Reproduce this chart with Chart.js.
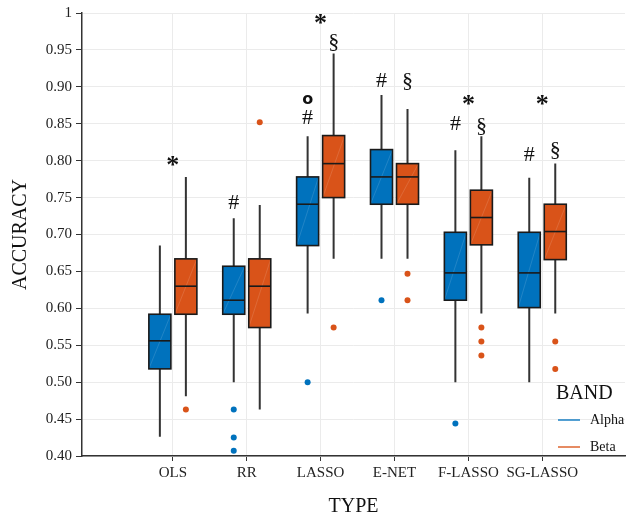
<!DOCTYPE html>
<html><head><meta charset="utf-8">
<script src="https://cdn.jsdelivr.net/npm/chart.js@4.4.1/dist/chart.umd.min.js"></script>
<style>html,body{margin:0;padding:0;background:#fff;} #wrap{width:629px;height:519px;position:relative;}</style>
</head><body><div id="wrap"><canvas id="c"></canvas></div>
<script>
const categories = ['OLS','RR','LASSO','E-NET','F-LASSO','SG-LASSO'];
const bandNames = ['Alpha','Beta'];
// [lower whisker, Q1, median, Q3, upper whisker]
const alphaStats = [
  [0.426,0.518,0.556,0.592,0.685],
  [0.500,0.592,0.611,0.657,0.722],
  [0.593,0.685,0.741,0.778,0.833],
  [0.667,0.741,0.778,0.815,0.889],
  [0.500,0.611,0.648,0.703,0.814],
  [0.500,0.601,0.648,0.703,0.777]
];
const betaStats = [
  [0.481,0.592,0.630,0.667,0.778],
  [0.463,0.574,0.630,0.667,0.740],
  [0.667,0.750,0.796,0.834,0.945],
  [0.667,0.741,0.778,0.796,0.870],
  [0.593,0.686,0.723,0.760,0.833],
  [0.593,0.666,0.704,0.741,0.796]
];
const alphaOutliers = [[],[0.463,0.425,0.407],[0.500],[0.611],[0.444],[]];
const betaOutliers = [[0.463],[0.852],[0.574],[0.647,0.611],[0.574,0.555,0.536],[0.555,0.518]];
const yTickValues = [0.40,0.45,0.50,0.55,0.60,0.65,0.70,0.75,0.80,0.85,0.90,0.95,1];
// significance marks: category index, which box ('Alpha','Beta' or 'center'), symbol, value level
const markCats  = [0,1,2,2,2,2,3,3,4,4,4,5,5,5];
const markBand  = ['center','Alpha','Alpha','Alpha','Beta','center','Alpha','Beta','Alpha','Beta','center','Alpha','Beta','center'];
const markText  = ['*','#','#','o','§','*','#','§','#','§','*','#','§','*'];
const markLevel = [0.801,0.743,0.857,0.883,0.960,0.993,0.908,0.908,0.850,0.847,0.883,0.807,0.814,0.883];

const COLORS = {Alpha:'#0072BD', Beta:'#D95319'};
const OFF = 0.176, HALF = 0.149;
const SERIF = '"Liberation Serif", "Times New Roman", serif';

function pts(outl, sign){
  const arr=[];
  outl.forEach((list,i)=>list.forEach(v=>arr.push({x:i+sign*OFF,y:v})));
  return arr;
}

const boxPlugin = {
  id:'boxes',
  beforeDatasetsDraw(chart){
    const ctx=chart.ctx, xs=chart.scales.x, ys=chart.scales.y;
    [[alphaStats,-1,'Alpha'],[betaStats,1,'Beta']].forEach(([stats,sign,band])=>{
      stats.forEach((s,i)=>{
        const cx=xs.getPixelForValue(i+sign*OFF);
        const l=xs.getPixelForValue(i+sign*OFF-HALF), r=xs.getPixelForValue(i+sign*OFF+HALF);
        const [mn,q1,md,q3,mx]=s.map(v=>ys.getPixelForValue(v));
        ctx.save();
        ctx.strokeStyle='#333'; ctx.lineWidth=2;
        ctx.beginPath(); ctx.moveTo(cx,q3); ctx.lineTo(cx,mx); ctx.moveTo(cx,q1); ctx.lineTo(cx,mn); ctx.stroke();
        ctx.fillStyle=COLORS[band];
        ctx.fillRect(l,q3,r-l,q1-q3);
        ctx.strokeStyle='rgba(255,255,255,0.22)'; ctx.lineWidth=0.6;
        ctx.beginPath(); ctx.moveTo(l,q1); ctx.lineTo(r,q3); ctx.stroke();
        ctx.strokeStyle='#1a1a1a'; ctx.lineWidth=1.6;
        ctx.strokeRect(l,q3,r-l,q1-q3);
        ctx.beginPath(); ctx.moveTo(l,md); ctx.lineTo(r,md); ctx.stroke();
        ctx.restore();
      });
    });
  },
  afterDatasetsDraw(chart){
    const ctx=chart.ctx, xs=chart.scales.x, ys=chart.scales.y;
    ctx.save();
    ctx.fillStyle='#111'; ctx.textAlign='center'; ctx.textBaseline='middle';
    markText.forEach((t,k)=>{
      const b=markBand[k];
      const xv=markCats[k]+(b==='Alpha'?-OFF:b==='Beta'?OFF:0);
      const x=xs.getPixelForValue(xv), y=ys.getPixelForValue(markLevel[k]);
      if(t==='o') ctx.font='bold 16px "DejaVu Sans", sans-serif';
      else if(t==='*') ctx.font='bold 26px '+SERIF;
      else ctx.font='22px '+SERIF;
      ctx.fillText(t,x,y+(t==='*'?6:0));
    });
    // legend
    const ca=chart.chartArea;
    const lx=ca.right-69, ly=ca.bottom-62;
    ctx.textAlign='left';
    ctx.font='20px '+SERIF; ctx.fillStyle='#111';
    ctx.fillText('BAND',lx,ly);
    ctx.font='14px '+SERIF;
    bandNames.forEach((n,j)=>{
      const yy=ly+26+j*27;
      ctx.strokeStyle=COLORS[n]; ctx.globalAlpha=0.85; ctx.lineWidth=1.6;
      ctx.beginPath(); ctx.moveTo(lx+2,yy); ctx.lineTo(lx+24,yy); ctx.stroke();
      ctx.globalAlpha=1; ctx.fillStyle='#111';
      ctx.fillText(n,lx+34,yy);
    });
    ctx.restore();
  }
};

new Chart(document.getElementById('c'),{
  type:'scatter',
  data:{datasets:[
    {label:bandNames[0],data:pts(alphaOutliers,-1),backgroundColor:COLORS.Alpha,borderWidth:0,pointRadius:3},
    {label:bandNames[1],data:pts(betaOutliers,1),backgroundColor:COLORS.Beta,borderWidth:0,pointRadius:3}
  ]},
  options:{
    responsive:true, maintainAspectRatio:false, animation:false, devicePixelRatio:1,
    layout:{padding:{top:10,right:0,left:0,bottom:0}},
    plugins:{legend:{display:false},tooltip:{enabled:false}},
    scales:{
      x:{type:'linear',min:-1.23,max:6.12,
        afterBuildTicks(s){s.ticks=categories.map((c,i)=>({value:i}));},
        afterFit(s){s.height=63;},
        ticks:{callback:(v)=>categories[v],color:'#222',font:{family:SERIF,size:15},padding:3,maxRotation:0,autoSkip:false},
        grid:{color:'#ebebeb',tickColor:'#333',tickLength:5,lineWidth:1},
        border:{color:'#333',width:1.5},
        title:{display:true,text:'TYPE',color:'#111',font:{family:SERIF,size:20},padding:{top:4,bottom:0}}
      },
      y:{type:'linear',min:0.4,max:1,
        afterBuildTicks(s){s.ticks=yTickValues.map(v=>({value:v}));},
        afterFit(s){s.width=82;},
        ticks:{callback:(v)=>v===1?'1':v.toFixed(2),color:'#222',font:{family:SERIF,size:15},padding:4},
        grid:{color:'#ebebeb',tickColor:'#333',tickLength:6,lineWidth:1},
        border:{color:'#333',width:1.5},
        title:{display:true,text:'ACCURACY',color:'#111',font:{family:SERIF,size:20},padding:{top:9,bottom:0}}
      }
    }
  },
  plugins:[boxPlugin]
});
</script></body></html>
